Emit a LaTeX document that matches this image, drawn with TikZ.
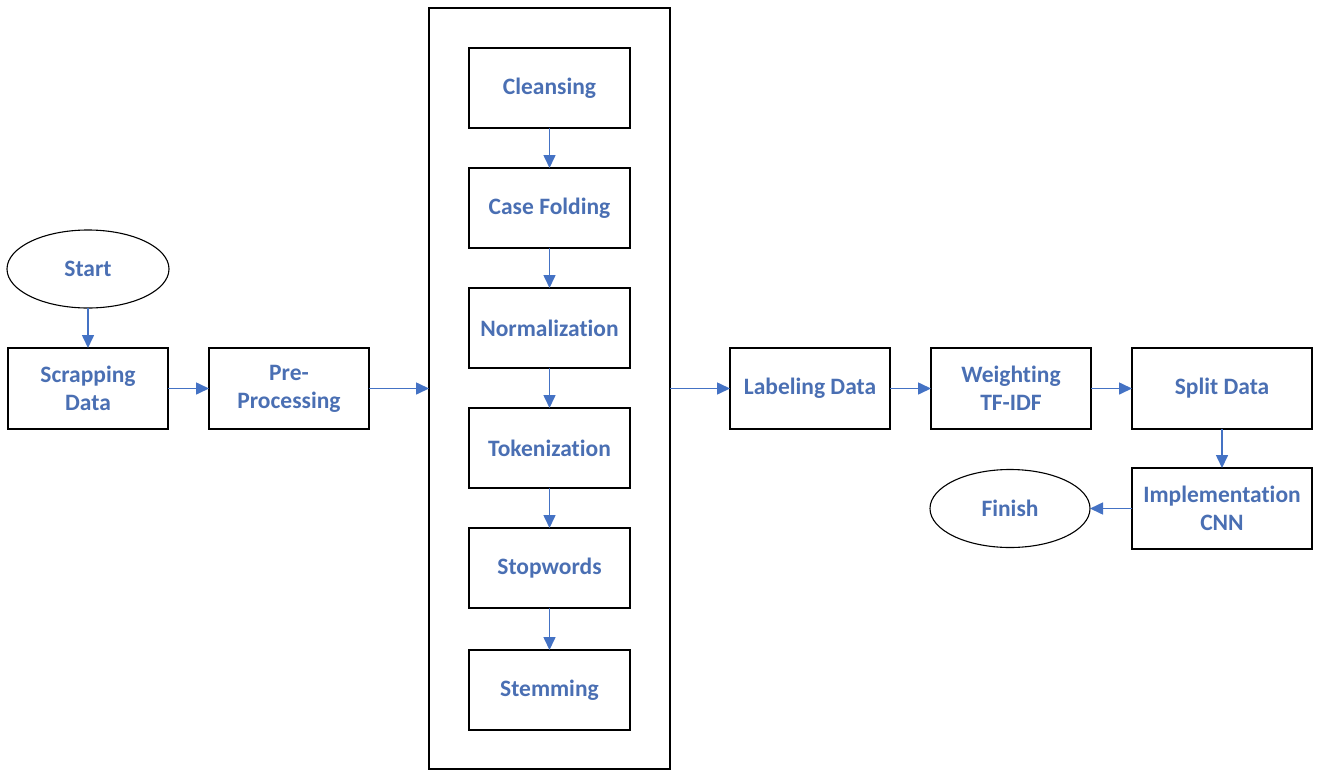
\documentclass[tikz,border=0pt]{standalone}
\usepackage{fontspec}
\setmainfont{Carlito}[Ligatures=NoCommon]
\usepackage{tikz}
\usetikzlibrary{arrows.meta,positioning,shapes.geometric}
\definecolor{flowblue}{HTML}{4472C4}
\definecolor{labelblue}{HTML}{4A6FB3}

\begin{document}
\begin{tikzpicture}
    [x=1pt,y=-1pt,node distance=40pt,
     every node/.style={font=\fontsize{23.5}{28}\selectfont\bfseries,text=labelblue,align=center,outer sep=0pt},
     stepbox/.style={rectangle,draw=black,line width=1.3pt,minimum width=160pt,minimum height=81pt,inner sep=2pt},
     endpoint/.style={ellipse,draw=black,line width=1.1pt,minimum width=162pt,minimum height=78pt,inner sep=0pt},
     flow/.style={-{Triangle[length=13pt,width=12pt]},draw=flowblue,line width=1.6pt}]
    \useasboundingbox (0,0) rectangle (1317,771);

    % left part
    \node[endpoint] (start) at (88,269) {Start};
    \node[stepbox,below=40pt of start] (scrap) {Scrapping\\Data};
    \node[stepbox,right=41pt of scrap] (pre) {Pre-\\Processing};

    % pre-processing steps
    \node[rectangle,draw=black,line width=1.3pt,minimum width=241pt,minimum height=761pt] (prep) at (549.5,388.5) {};
    \node[stepbox,minimum height=80pt,minimum width=161pt] (clean) at (549.5,88) {Cleansing};
    \node[stepbox,minimum height=80pt,minimum width=161pt,below=of clean] (fold) {Case Folding};
    \node[stepbox,minimum height=80pt,minimum width=161pt,below=of fold] (norm) {Normalization};
    \node[stepbox,minimum height=80pt,minimum width=161pt,below=of norm] (token) {Tokenization};
    \node[stepbox,minimum height=80pt,minimum width=161pt,below=of token] (stop) {Stopwords};
    \node[stepbox,minimum height=80pt,minimum width=161pt,below=42pt of stop] (stem) {Stemming};

    % right part
    \node[stepbox,right=60pt of prep.east|-pre.east] (label) {Labeling Data};
    \node[stepbox,right=41pt of label] (weight) {Weighting\\TF-IDF};
    \node[stepbox,minimum width=180pt,right=41pt of weight] (split) {Split Data};
    \node[stepbox,minimum width=180pt,below=39pt of split] (impl) {Implementation\\CNN};
    \node[endpoint,minimum width=160pt,left=42pt of impl] (finish) {Finish};

    \draw (start) edge[flow] (scrap);
    \draw (scrap) edge[flow] (pre);
    \draw (pre) edge[flow] (pre-|prep.west);
    \draw (clean) edge[flow] (fold);
    \draw (fold) edge[flow] (norm);
    \draw (norm) edge[flow] (token);
    \draw (token) edge[flow] (stop);
    \draw (stop) edge[flow] (stem);
    \draw (label-|prep.east) edge[flow] (label);
    \draw (label) edge[flow] (weight);
    \draw (weight) edge[flow] (split);
    \draw (split) edge[flow] (impl);
    \draw (impl) edge[flow] (finish);
\end{tikzpicture}
\end{document}
